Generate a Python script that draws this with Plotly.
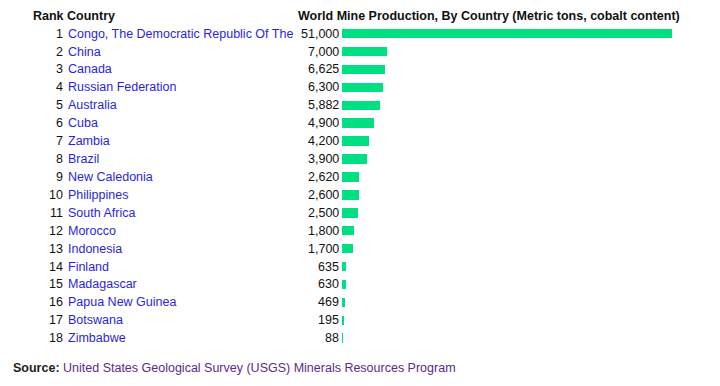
import plotly.graph_objects as go

ranks = list(range(1, 19))
countries = ["Congo, The Democratic Republic Of The", "China", "Canada", "Russian Federation",
             "Australia", "Cuba", "Zambia", "Brazil", "New Caledonia", "Philippines",
             "South Africa", "Morocco", "Indonesia", "Finland", "Madagascar",
             "Papua New Guinea", "Botswana", "Zimbabwe"]
production = [51000, 7000, 6625, 6300, 5882, 4900, 4200, 3900, 2620, 2600,
              2500, 1800, 1700, 635, 630, 469, 195, 88]

# page body has an 8px margin, so the figure is drawn 8px in from the window corner
OFF = 8
W, H = 704, 370
row0, step = 33.6 - OFF, 17.92
FONT = "Liberation Sans, Arial, sans-serif"
FS = 12.5
BLUE = "#2b1fdc"
PURPLE = "#5b2a8c"
DARK = "#111111"
GREEN = "#00e083"

def px(x):
    # x given in reference-window pixels
    return (x - OFF) / W

ypos = list(range(len(countries)))

fig = go.Figure()
fig.add_trace(go.Bar(
    x=production, y=ypos, orientation="h",
    marker=dict(color=GREEN, line=dict(width=0)),
    width=0.53, hoverinfo="skip", showlegend=False,
))

annotations = []
for i, (r, c, v) in enumerate(zip(ranks, countries, production)):
    annotations.append(dict(x=px(65), y=i, xref="paper", yref="y", text=str(r),
                            showarrow=False, xanchor="right", yanchor="middle",
                            font=dict(family=FONT, size=FS, color=DARK)))
    annotations.append(dict(x=px(66), y=i, xref="paper", yref="y", text=c,
                            showarrow=False, xanchor="left", yanchor="middle",
                            font=dict(family=FONT, size=FS, color=BLUE)))
    annotations.append(dict(x=px(340.5), y=i, xref="paper", yref="y", text=f"{v:,}",
                            showarrow=False, xanchor="right", yanchor="middle",
                            font=dict(family=FONT, size=FS, color=DARK)))

annotations.append(dict(x=px(31), y=-0.98, xref="paper", yref="y", text="<b>Rank Country</b>",
                        showarrow=False, xanchor="left", yanchor="middle",
                        font=dict(family=FONT, size=FS, color=DARK)))
annotations.append(dict(x=px(296), y=-0.98, xref="paper", yref="y",
                        text="<b>World Mine Production, By Country (Metric tons, cobalt content)</b>",
                        showarrow=False, xanchor="left", yanchor="middle",
                        font=dict(family=FONT, size=FS, color=DARK)))
annotations.append(dict(x=px(10.7), y=1 - (367.5 - OFF) / H, xref="paper", yref="paper",
                        text="<b>Source:</b> <span style='color:%s'>United States Geological Survey (USGS) Minerals Resources Program</span>" % PURPLE,
                        showarrow=False, xanchor="left", yanchor="middle",
                        font=dict(family=FONT, size=FS, color="#222222")))

ytop = -row0 / step
ybot = (H - row0) / step

fig.update_layout(
    width=W, height=H,
    margin=dict(l=0, r=0, t=0, b=0),
    paper_bgcolor="white", plot_bgcolor="rgba(0,0,0,0)",
    xaxis=dict(domain=[px(341.8), px(672)], range=[0, 51000], visible=False, fixedrange=True),
    yaxis=dict(domain=[0, 1], range=[ybot, ytop], visible=False, fixedrange=True),
    annotations=annotations,
    bargap=0,
)

fig.write_html("out.html")
